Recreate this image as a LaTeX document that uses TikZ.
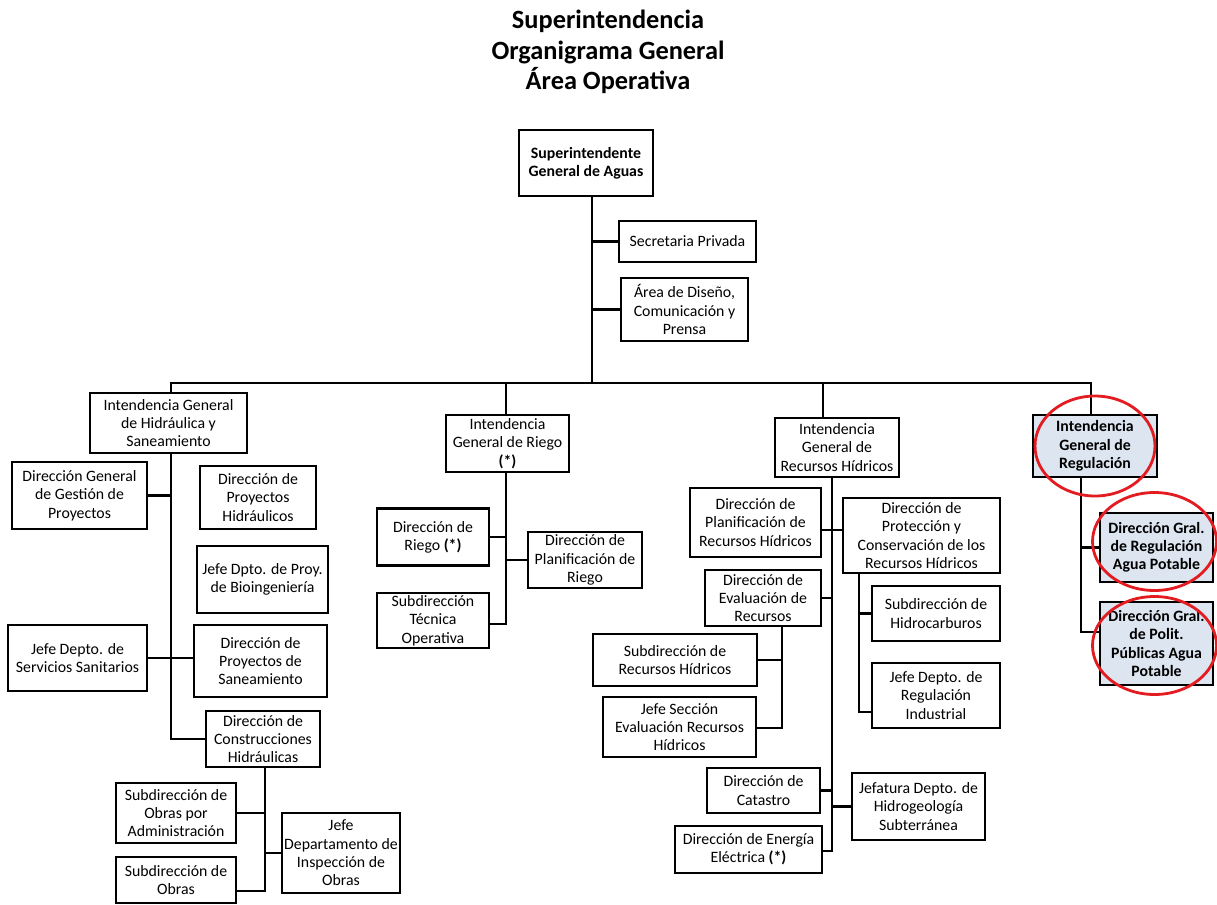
\documentclass[tikz,border=0pt]{standalone}
\usepackage{fontspec}
\setmainfont{Carlito}
\usepackage{tikz}
\usetikzlibrary{positioning,calc}
\definecolor{regfill}{RGB}{221,229,240}
\definecolor{ringred}{RGB}{226,28,33}

\begin{document}
\begin{tikzpicture}[x=0.02cm,y=-0.02cm,every node/.style={font=\fontsize{9}{10.4}\selectfont}]
\tikzstyle{st}=[draw,line width=1.5pt,align=center,inner sep=1pt]
\tikzstyle{hl}=[st,fill=regfill,font=\fontsize{9}{10.4}\selectfont\bfseries]
\tikzstyle{ln}=[line width=1.2pt]
\tikzstyle{ring}=[draw=ringred,line width=1.6pt]
\useasboundingbox (0,0) rectangle (1217,904);

\node[font=\fontsize{15}{17.4}\selectfont\bfseries,align=center] (title) at (608,52) {Superintendencia\\Organigrama General\\Área Operativa};

% top
\node[st,font=\fontsize{9}{10.4}\selectfont\bfseries,minimum width=2.68cm,minimum height=1.32cm] (sup) at (586,163) {Superintendente\\General de Aguas};
\node[st,minimum width=2.74cm,minimum height=0.82cm] (sec) at (687.5,241.5) {Secretaria Privada};
\node[st,minimum width=2.54cm,minimum height=1.26cm] (dis) at (684.5,309.5) {Área de Diseño,\\Comunicación y\\Prensa};

% hidraulica y saneamiento
\node[st,minimum width=3.14cm,minimum height=1.2cm] (hid) at (168.5,423) {Intendencia General\\de Hidráulica y\\Saneamiento};
\node[st,minimum width=2.7cm,minimum height=1.34cm] (dgp) at (79.5,495.5) {Dirección General\\de Gestión de\\Proyectos};
\node[st,minimum width=2.32cm,minimum height=1.26cm] (dph) at (258,497.5) {Dirección de\\Proyectos\\Hidráulicos};
\node[st,minimum width=2.62cm,minimum height=1.34cm] (bio) at (262.5,579.5) {Jefe Dpto. de Proy.\\de Bioingeniería};
\node[st,minimum width=2.78cm,minimum height=1.32cm] (sss) at (77.5,658) {Jefe Depto. de\\Servicios Sanitarios};
\node[st,minimum width=2.66cm,minimum height=1.44cm] (dps) at (260.5,661) {Dirección de\\Proyectos de\\Saneamiento};
\node[st,minimum width=2.28cm,minimum height=1.12cm] (dch) at (263,739) {Dirección de\\Construcciones\\Hidráulicas};
\node[st,minimum width=2.4cm,minimum height=1.2cm] (soa) at (176,813) {Subdirección de\\Obras por\\Administración};
\node[st,minimum width=2.4cm,minimum height=0.92cm] (sob) at (176,880) {Subdirección de\\Obras};
\node[st,minimum width=2.36cm,minimum height=1.6cm] (jdi) at (341,853) {Jefe\\Departamento de\\Inspección de\\Obras};

% riego
\node[st,minimum width=2.46cm,minimum height=1.14cm] (rie) at (507.5,443.5) {Intendencia\\General de Riego\\\textbf{(*)}};
\node[st,minimum width=2.24cm,minimum height=1.14cm] (dri) at (433,537) {Dirección de\\Riego \textbf{(*)}};
\node[st,minimum width=2.28cm,minimum height=1.12cm] (dpr) at (585,560) {Dirección de\\Planificación de\\Riego};
\node[st,minimum width=2.24cm,minimum height=1.1cm] (sto) at (433,620.5) {Subdirección\\Técnica\\Operativa};

% recursos hidricos
\node[st,minimum width=2.48cm,minimum height=1.18cm] (rec) at (837,447.5) {Intendencia\\General de\\Recursos Hídricos};
\node[st,minimum width=2.62cm,minimum height=1.38cm] (dpl) at (755.5,522.5) {Dirección de\\Planificación de\\Recursos Hídricos};
\node[st,minimum width=3.14cm,minimum height=1.5cm] (dpc) at (921.5,535.5) {Dirección de\\Protección y\\Conservación de los\\Recursos Hídricos};
\node[st,minimum width=2.32cm,minimum height=1.12cm] (dev) at (763,598) {Dirección de\\Evaluación de\\Recursos};
\node[st,minimum width=3.28cm,minimum height=1.04cm] (srh) at (675,660) {Subdirección de\\Recursos Hídricos};
\node[st,minimum width=3.06cm,minimum height=1.2cm] (jse) at (679.5,727) {Jefe Sección\\Evaluación Recursos\\Hídricos};
\node[st,minimum width=2.26cm,minimum height=0.9cm] (cat) at (763.5,790.5) {Dirección de\\Catastro};
\node[st,minimum width=2.94cm,minimum height=0.94cm] (dee) at (748.5,849.5) {Dirección de Energía\\Eléctrica \textbf{(*)}};
\node[st,minimum width=2.66cm,minimum height=1.34cm] (jhs) at (918.5,806.5) {Jefatura Depto. de\\Hidrogeología\\Subterránea};
\node[st,minimum width=2.56cm,minimum height=1.1cm] (shc) at (936,613.5) {Subdirección de\\Hidrocarburos};
\node[st,minimum width=2.56cm,minimum height=1.3cm] (jri) at (936,695.5) {Jefe Depto. de\\Regulación\\Industrial};

% regulacion
\node[hl,minimum width=2.48cm,minimum height=1.24cm] (reg) at (1095,446) {Intendencia\\General de\\Regulación};
\node[hl,minimum width=2.26cm,minimum height=1.38cm] (drap) at (1156.5,547.5) {Dirección Gral.\\de Regulación\\Agua Potable};
\node[hl,minimum width=2.26cm,minimum height=1.66cm] (dpp) at (1156.5,643.5) {Dirección Gral.\\de Polit.\\Públicas Agua\\Potable};

% lines
\coordinate (t0) at (592,383);
\coordinate (bl) at (171,383);
\coordinate (br) at (1091,383);
\coordinate (bR) at (506,383);
\coordinate (bE) at (823,383);
\draw[ln] (t0 |- sup.south) -- (t0);
\draw[ln] (t0 |- sec.west) -- (sec.west);
\draw[ln] (t0 |- dis.west) -- (dis.west);
\draw[ln] (bl |- hid.north) -- (bl) -- (br) -- (br |- reg.north);
\draw[ln] (bR) -- (bR |- rie.north);
\draw[ln] (bE) -- (bE |- rec.north);

\coordinate (tH) at (bl |- dch.west);
\draw[ln] (bl |- hid.south) -- (tH) -- (dch.west);
\draw[ln] (dgp.east) -- (bl |- dgp.east);
\draw[ln] (sss.east) -- (sss.east -| dps.west);
\coordinate (tC) at (265,891);
\draw[ln] (tC |- dch.south) -- (tC) -- (tC -| sob.east);
\draw[ln] (soa.east) -- (tC |- soa.east);
\draw[ln] (tC |- jdi.west) -- (jdi.west);

\coordinate (tR) at (506,624);
\draw[ln] (tR |- rie.south) -- (tR) -- (tR -| sto.east);
\draw[ln] (dri.east) -- (tR |- dri.east);
\draw[ln] (tR |- dpr.west) -- (dpr.west);

\coordinate (tE) at (832,851);
\coordinate (hP) at (832,530);
\draw[ln] (tE |- rec.south) -- (tE) -- (tE -| dee.east);
\draw[ln] (hP -| dpl.east) -- (hP -| dpc.west);
\draw[ln] (dev.east) -- (tE |- dev.east);
\draw[ln] (cat.east) -- (tE |- cat.east);
\draw[ln] (tE |- jhs.west) -- (jhs.west);
\coordinate (tV) at (782,728);
\draw[ln] (tV |- dev.south) -- (tV) -- (tV -| jse.east);
\draw[ln] (srh.east) -- (tV |- srh.east);
\coordinate (tP) at (859,712);
\draw[ln] (tP |- dpc.south) -- (tP) -- (tP -| jri.west);
\draw[ln] (tP |- shc.west) -- (shc.west);

\coordinate (tG) at (1081,632);
\draw[ln] (tG |- reg.south) -- (tG) -- (tG -| dpp.west);
\draw[ln] (tG |- drap.west) -- (drap.west);

% red rings
\draw[ring] (reg) ellipse [x radius=1.2cm,y radius=1cm];
\draw[ring] ($(drap)+(-2,-6)$) ellipse [x radius=1.24cm,y radius=0.98cm];
\draw[ring] ($(dpp)+(-2,2)$) ellipse [x radius=1.24cm,y radius=0.98cm];
\end{tikzpicture}
\end{document}
